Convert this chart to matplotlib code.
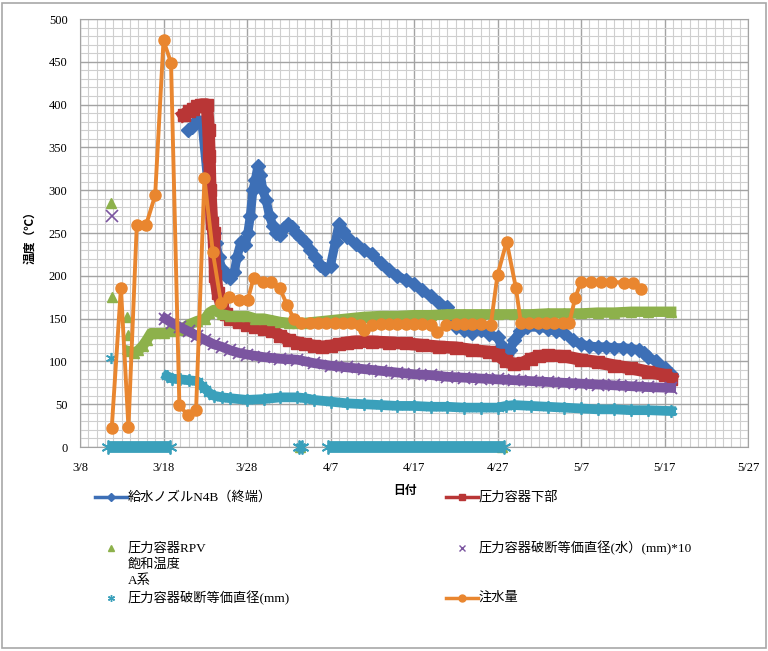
import matplotlib.pyplot as plt
from matplotlib.lines import Line2D
from matplotlib.patches import Rectangle
import numpy as np

plt.rcParams['font.family'] = ['Liberation Serif', 'Noto Sans CJK JP']

# x values are days counted from 3/8
tick_days = [0, 10, 20, 30, 40, 50, 60, 70, 80]
tick_labels = ['3/8', '3/18', '3/28', '4/7', '4/17', '4/27', '5/7', '5/17', '5/27']

# 給水ノズルN4B（終端）
nozzle_days = [12.9, 13.4, 14.0, 14.6, 15.4, 16.0, 16.3, 16.6, 17.0, 17.5, 18.0, 18.5, 18.8, 19.3, 19.8,
               20.1, 20.4, 20.7, 21.0, 21.3, 21.6, 21.9, 22.3, 22.7, 23.1, 23.5, 24.0,
               24.4, 24.9, 25.4, 25.9, 26.4, 27.0, 27.6, 28.2, 28.8, 29.4, 30.0, 30.6,
               31.0, 31.5, 32, 33, 34, 35, 36, 37, 38, 39, 40, 41, 42, 43, 44, 44.5,
               45, 46, 47, 48, 49, 50, 50.5, 51, 51.5, 52, 52.7, 53.5, 55, 56, 57, 58,
               59, 60, 61, 62, 63, 64, 65, 66, 67, 67.5, 68, 69, 70, 70.8]
nozzle_vals = [370, 374, 382, 380, 300, 250, 238, 222, 208, 200, 197, 205, 222, 240, 236,
               250, 270, 300, 312, 328, 318, 300, 288, 270, 258, 250, 248,
               256, 260, 257, 250, 245, 240, 230, 222, 213, 208, 212, 240,
               260, 252, 245, 237, 230, 225, 215, 207, 200, 195, 190, 183, 176, 168, 163, 150,
               140, 137, 133, 137, 132, 128, 118, 108, 113, 125, 135, 140, 140, 138, 135, 133,
               125, 120, 118, 117, 117, 116, 116, 115, 113, 110, 105, 100, 92, 85]

# 圧力容器下部
lower_days = [12.4, 13.0, 13.5, 14.0, 14.5, 15.2, 15.4, 15.5, 15.6, 15.8, 16.0, 16.2,
              16.5, 17.0, 17.5, 18, 19, 20, 21, 22, 23, 24, 25, 26, 27, 28, 29, 30,
              31, 32, 33, 35, 37, 39, 41, 43, 45, 47, 49, 50, 51, 52, 53, 54, 55, 56,
              58, 60, 62, 64, 66, 68, 70, 70.8]
lower_vals = [388, 392, 395, 398, 400, 400, 370, 340, 300, 262, 250, 200,
              180, 165, 155, 150, 146, 143, 140, 138, 136, 130, 125, 122, 120, 118, 117, 118,
              120, 122, 123, 123, 122, 121, 119, 117, 116, 113, 111, 108, 100, 97, 98, 103, 106, 107,
              106, 102, 99, 95, 92, 88, 84, 80]

# 圧力容器RPV飽和温度A系
rpv_pt_days = [3.7, 3.8, 5.6, 5.7]
rpv_pt_vals = [285, 175, 152, 131]
rpv_days = [5.8, 6.5, 7.0, 7.5, 8.0, 8.5, 9, 10, 11, 12, 13, 14, 15, 15.5, 16, 17, 18,
            19, 20, 21, 22, 23, 24, 25, 26, 27, 28, 29, 30, 32, 34, 36, 38, 40, 42, 44,
            46, 48, 50, 52, 54, 56, 58, 60, 62, 64, 66, 68, 70.8]
rpv_vals = [112, 110, 113, 118, 125, 133, 133, 133, 135, 137, 143, 147, 150, 157, 160, 155, 153,
            153, 153, 150, 150, 148, 146, 145, 145, 145, 146, 147, 148, 150, 152, 153, 153, 154, 154, 155,
            155, 155, 155, 155, 155, 156, 156, 156, 157, 157, 158, 158, 158]
rpv_zero_days = [26.4, 50.5]
rpv_zero_vals = [0, 0]

# 圧力容器破断等価直径(水)(mm)*10
water_pt_days = [3.8]
water_pt_vals = [270]
water_days = [10.2, 11, 12, 13, 14, 15, 16, 17, 18, 19, 20, 22, 24, 26, 28, 30, 32, 34,
              36, 38, 40, 42, 44, 46, 48, 50, 52, 54, 56, 58, 60, 62, 64, 66, 68, 70.8]
water_vals = [150, 145, 140, 135, 130, 125, 120, 117, 113, 110, 108, 105, 103, 102, 98, 95, 93, 91,
              89, 87, 85, 84, 82, 81, 80, 79, 78, 77, 76, 75, 74, 73, 72, 71, 70, 69]

# 圧力容器破断等価直径(mm)
dia_pt_days = [3.7]
dia_pt_vals = [104]
dia_days = [10.4, 11, 12, 13, 14, 14.5, 15, 15.5, 16, 17, 18, 20, 22, 24, 26, 27, 28, 30,
            32, 34, 36, 38, 40, 42, 44, 46, 48, 50, 51, 52, 54, 56, 58, 60, 62, 64, 66, 68, 70.8]
dia_vals = [83, 80, 79, 78, 77, 72, 68, 63, 60, 58, 57, 55, 56, 58, 58, 57, 55, 53,
            51, 50, 49, 48, 48, 47, 47, 46, 46, 46, 48, 49, 48, 47, 46, 45, 44, 44, 43, 43, 42]
dia_zero_spans = [(3.3, 10.8), (26.2, 26.6), (29.7, 50.8)]

# 注水量
inj_days = [3.8, 4.9, 5.8, 6.8, 7.9, 9.0, 10.0, 10.9, 11.9, 12.9, 13.9, 14.9, 15.9, 16.9,
            17.9, 19.0, 20.1, 20.8, 21.9, 22.9, 23.9, 24.8, 25.6, 26.5, 27.5, 28.5, 29.5,
            30.5, 31.5, 32.5, 33.5, 34.0, 35, 36, 37, 38, 39, 40, 41, 42, 42.8, 43.8, 45,
            46, 47, 48, 49.2, 50.0, 51.1, 52.2, 52.8, 53.8, 54.8, 55.8, 56.8, 57.8, 58.6,
            59.3, 60.0, 61.2, 62.4, 63.6, 65.2, 66.2, 67.2]
inj_vals = [22, 186, 23, 259, 259, 294, 475, 449, 49, 37, 43, 314, 228, 168,
            175, 172, 172, 198, 193, 193, 186, 166, 150, 145, 145, 145, 145,
            145, 145, 145, 143, 137, 143, 144, 144, 144, 144, 144, 144, 143, 134, 143, 144,
            144, 144, 144, 143, 201, 240, 186, 145, 145, 145, 145, 145, 145, 145,
            174, 193, 193, 193, 193, 192, 192, 184]

c_blue = '#3d6fb6'
c_red = '#b93636'
c_green = '#8db14b'
c_purple = '#7b55a0'
c_cyan = '#3aa0bb'
c_orange = '#e9862f'

fig = plt.figure(figsize=(7.68, 6.51), dpi=100)
ax = fig.add_axes([80 / 768, 1 - 447 / 651, 668 / 768, 428 / 651])

# series drawn in the order of the original workbook
ax.plot(nozzle_days, nozzle_vals, color=c_blue, lw=6.5, marker='D', ms=7, zorder=3)
ax.plot(lower_days, lower_vals, color=c_red, lw=9, marker='s', ms=8, zorder=3)

ax.plot(rpv_days, rpv_vals, color=c_green, lw=7.5, zorder=3)
ax.plot(rpv_days, rpv_vals, ls='none', color=c_green, marker='^', ms=7, zorder=3)
ax.plot(rpv_pt_days, rpv_pt_vals, ls='none', color=c_green, marker='^', ms=7, zorder=3)
ax.plot(rpv_zero_days, rpv_zero_vals, ls='none', color=c_green, marker='^', ms=7,
        zorder=3, clip_on=False)

ax.plot(water_days, water_vals, color=c_purple, lw=7, zorder=3)
ax.plot(water_days, water_vals, ls='none', color=c_purple, marker='x', ms=9, mew=1.3, zorder=3)
ax.plot(water_pt_days, water_pt_vals, ls='none', color=c_purple, marker='x', ms=8, mew=1.2, zorder=3)

ax.plot(dia_days, dia_vals, color=c_cyan, lw=7, zorder=3)
ax.plot(dia_days, dia_vals, ls='none', color=c_cyan, marker=(6, 2, 0), ms=9, mew=1.3, zorder=3)
ax.plot(dia_pt_days, dia_pt_vals, ls='none', color=c_cyan, marker=(6, 2, 0), ms=8, mew=1.2, zorder=3)
for a, b in dia_zero_spans:
    ax.plot([a, b], [0, 0], color=c_cyan, lw=8.5, solid_capstyle='butt', zorder=3, clip_on=False)
    ax.plot([a, b], [0, 0], ls='none', color=c_cyan, marker=(6, 2, 0), ms=10, mew=1.3,
            zorder=3, clip_on=False)

ax.plot(inj_days, inj_vals, color=c_orange, lw=2.8, marker='o', ms=8, zorder=4)

ax.set_xlim(0, 80)
ax.set_ylim(0, 500)
ax.set_xticks(tick_days)
ax.set_xticklabels(tick_labels)
ax.set_xticks(np.arange(0, 81, 1), minor=True)
ax.set_yticks(np.arange(0, 501, 50))
ax.set_yticks(np.arange(0, 501, 10), minor=True)
ax.grid(which='minor', color='#cfcfcf', lw=0.8)
ax.grid(which='major', color='#a3a3a3', lw=1.0)
ax.set_axisbelow(True)
ax.tick_params(which='both', length=0, labelsize=9)
ax.tick_params(axis='x', pad=11)
ax.tick_params(axis='y', pad=9)
for s in ax.spines.values():
    s.set_color('#a3a3a3')

cjk = ['Noto Sans CJK JP', 'DejaVu Sans']
fig.text(30 / 768, 1 - 235 / 651, '温度（℃）', rotation=90, ha='center', va='center',
         family=cjk, fontsize=8.5, fontweight='bold')
fig.text(405 / 768, 1 - 490 / 651, '日付', ha='center', va='center',
         family=cjk, fontsize=8.5, fontweight='bold')


# legend entries placed by hand below the plot
def fx(x):
    return x / 768


def fy(y):
    return 1 - y / 651


def handle(x, y, color, marker, line, ms, mew=1.0):
    if line:
        fig.add_artist(Line2D([fx(x - 16), fx(x + 16)], [fy(y), fy(y)], color=color, lw=2.5))
    fig.add_artist(Line2D([fx(x)], [fy(y)], color=color, marker=marker, ms=ms, mew=mew, ls='none'))


leg_size = 9.5
handle(111, 497, c_blue, 'D', True, 4)
fig.text(fx(128), fy(497), '給水ノズルN4B（終端）', va='center', fontsize=leg_size)
handle(462, 497, c_red, 's', True, 5)
fig.text(fx(479), fy(497), '圧力容器下部', va='center', fontsize=leg_size)
handle(111, 548, c_green, '^', False, 5)
for i, line in enumerate(['圧力容器RPV', '飽和温度', 'A系']):
    fig.text(fx(128), fy(548 + 16.5 * i), line, va='center', fontsize=leg_size)
handle(462, 548, c_purple, 'x', False, 5)
fig.text(fx(479), fy(548), '圧力容器破断等価直径(水）(mm)*10', va='center', fontsize=leg_size)
handle(111, 598, c_cyan, (6, 2, 0), False, 5)
fig.text(fx(128), fy(598), '圧力容器破断等価直径(mm)', va='center', fontsize=leg_size)
handle(462, 598, c_orange, 'o', True, 5)
fig.text(fx(479), fy(598), '注水量', va='center', fontsize=leg_size)

fig.patches.append(Rectangle((fx(2), fy(648)), fx(764), 645 / 651, transform=fig.transFigure,
                             fill=False, edgecolor='#a8a8a8', lw=1.2))

fig.savefig('out.png', dpi=100)
